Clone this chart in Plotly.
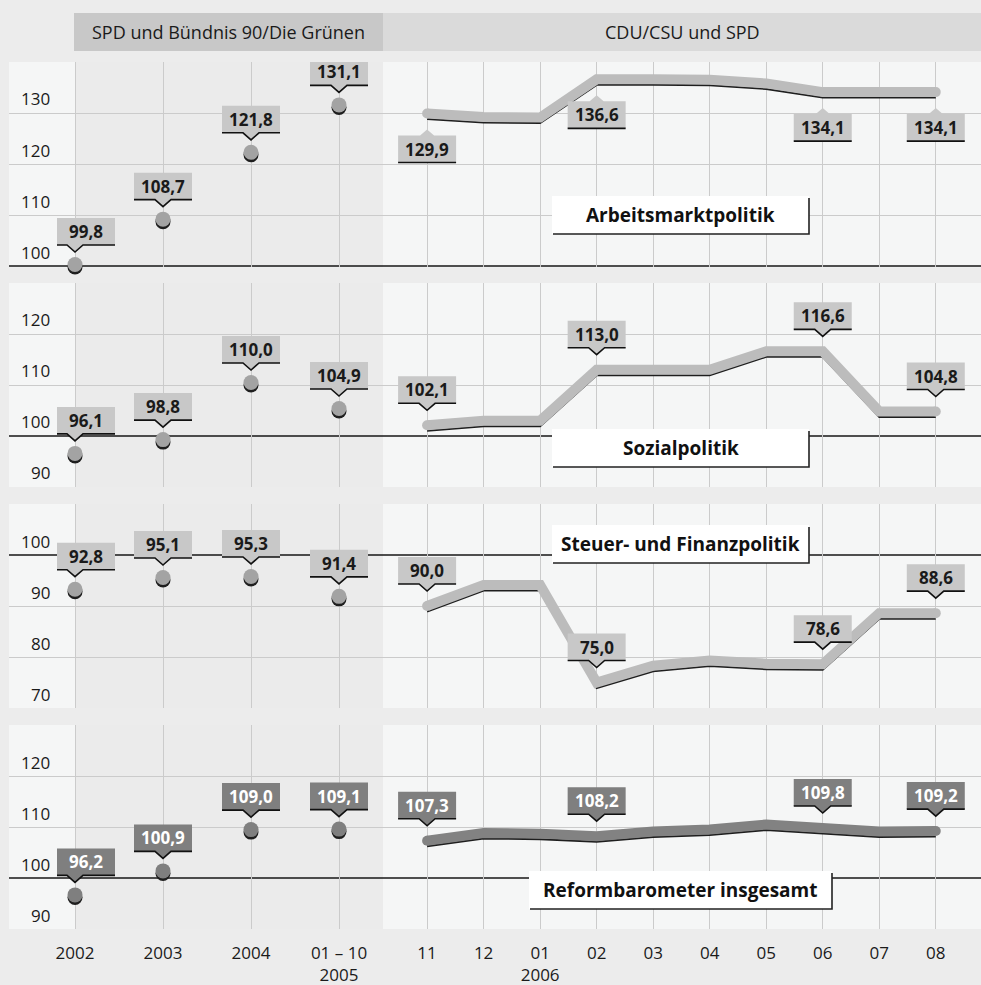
import plotly.graph_objects as go

# ---------------- data ----------------
left_cats = ["2002", "2003", "2004", "01 – 10<br>2005"]
right_cats = ["11", "12", "01<br>2006", "02", "03", "04", "05", "06", "07", "08"]

header_left = "SPD und Bündnis 90/Die Grünen"
header_right = "CDU/CSU und SPD"

panel_titles = ["Arbeitsmarktpolitik", "Sozialpolitik",
                "Steuer- und Finanzpolitik", "Reformbarometer insgesamt"]

arbeit_left = [99.8, 108.7, 121.8, 131.1]
arbeit_right = [129.9, 129.2, 129.1, 136.6, 136.6, 136.5, 135.8, 134.1, 134.1, 134.1]
sozial_left = [96.1, 98.8, 110.0, 104.9]
sozial_right = [102.1, 103.0, 103.0, 113.0, 113.0, 113.0, 116.6, 116.6, 104.8, 104.8]
steuer_left = [92.8, 95.1, 95.3, 91.4]
steuer_right = [90.0, 94.1, 94.1, 75.0, 78.3, 79.3, 78.7, 78.6, 88.6, 88.6]
gesamt_left = [96.2, 100.9, 109.0, 109.1]
gesamt_right = [107.3, 108.8, 108.7, 108.2, 109.1, 109.5, 110.5, 109.8, 109.1, 109.2]

left_values = [arbeit_left, sozial_left, steuer_left, gesamt_left]
right_values = [arbeit_right, sozial_right, steuer_right, gesamt_right]

y_ranges = [(100, 140), (90, 130), (70, 110), (90, 130)]
y_tick_labels = [[100, 110, 120, 130], [90, 100, 110, 120],
                 [70, 80, 90, 100], [90, 100, 110, 120]]
right_labelled = [0, 3, 7, 9]
labels_below = [True, False, False, False]

# ---------------- geometry / style ----------------
W, H = 981, 985
PLOT_L, SPLIT = 9, 383
PANEL_TOP = [62, 283, 504, 725]
PANEL_H = 204
LEFT_RANGE = [-0.75, 3.5]
RIGHT_RANGE = [-0.78, 9.8]
TITLE_BOXES = [(552, 809, 196, 234), (552, 809, 429, 467),
               (552, 809, 525, 563), (529, 832, 871, 909)]

FONT = "Open Sans"
BG = "#ececec"
PANEL_BG = "#f5f6f6"
SHADE = "#ebebeb"
GRID = "#cbcbcb"
HEAD_L = "#c8c8c8"
HEAD_R = "#dadada"
SHADOW = "#1e1e1e"
TXT = "#1a1a1a"
LIGHT_LINE, LIGHT_MARK, LIGHT_LAB = "#bcbcbc", "#a3a3a3", "#c8c8c8"
DARK_LINE, DARK_MARK, DARK_LAB = "#828282", "#7f7f7f", "#7f7f7f"


def px(x):
    return x / W


def py(y):
    return 1 - y / H


def fmt(v):
    return f"{v:.1f}".replace(".", ",")


fig = go.Figure()
layout = {}
shapes = []
annotations = []

for r in range(4):
    lo, hi = y_ranges[r]
    top = PANEL_TOP[r]
    ppu = PANEL_H / (hi - lo)
    # a point just below the panel floor must stay inside the axis range
    vmin = min(left_values[r] + right_values[r])
    pad = max(0.0, lo - vmin + 0.05)
    lo_r = lo - pad
    bot = top + PANEL_H + pad * ppu
    dark = (r == 3)
    line_col = DARK_LINE if dark else LIGHT_LINE
    mark_col = DARK_MARK if dark else LIGHT_MARK
    lab_col = DARK_LAB if dark else LIGHT_LAB
    lab_txt = "white" if dark else TXT

    for c in range(2):
        k = r * 2 + c + 1
        xname = "x" if k == 1 else f"x{k}"
        xkey = "xaxis" if k == 1 else f"xaxis{k}"
        ybn, yon = 2 * k - 1, 2 * k
        yb = "y" if ybn == 1 else f"y{ybn}"          # base axis (drawn first)
        ybkey = "yaxis" if ybn == 1 else f"yaxis{ybn}"
        yo = f"y{yon}"                               # overlay axis (drawn on top)
        yokey = f"yaxis{yon}"
        cats = left_cats if c == 0 else right_cats
        vals = left_values[r] if c == 0 else right_values[r]

        true_range = [lo_r, hi]
        grid_vals = [t for t in range(lo, hi + 1, 10) if t != 100]
        if c == 0:
            # base = true scale (dark marker shadow), overlay lifted 2.5 px (grey marker)
            d = 2.5 / ppu
            base_range = true_range
            over_range = [lo_r - d, hi - d]
            ytrue = yb
        else:
            # base = lowered 5.5 px (dark line shadow), overlay = true scale (grey line)
            d = 5.5 / ppu
            base_range = [lo_r + d, hi + d]
            over_range = true_range
            ytrue = yo

        layout[xkey] = dict(
            domain=[px(PLOT_L), px(SPLIT)] if c == 0 else [px(SPLIT), 1],
            anchor=yb, type="category", categoryorder="array", categoryarray=cats,
            range=LEFT_RANGE if c == 0 else RIGHT_RANGE,
            showgrid=True, gridcolor=GRID, gridwidth=1,
            showticklabels=(r == 3), ticks="", showline=False, zeroline=False,
            ticklabelstandoff=12,
            tickfont=dict(family=FONT, size=17, color=TXT), fixedrange=True)
        layout[ybkey] = dict(
            domain=[py(bot), py(top)], anchor=xname, range=base_range,
            tickmode="array", tickvals=grid_vals, showgrid=(c == 0),
            gridcolor=GRID, gridwidth=1,
            showticklabels=False, zeroline=False, showline=False,
            ticks="", fixedrange=True)
        layout[yokey] = dict(
            overlaying=yb, anchor=xname, range=over_range,
            tickmode="array", tickvals=grid_vals, showgrid=(c == 1),
            gridcolor=GRID, gridwidth=1,
            showticklabels=False, zeroline=False, showline=False, ticks="",
            fixedrange=True)

        # shading of the red-green period
        if c == 0:
            shapes.append(dict(type="rect", xref=xname, yref=f"{yb} domain",
                               x0=0, x1=3.5, y0=0, y1=1, fillcolor=SHADE,
                               line=dict(width=0), layer="below"))
        # 100 reference line (position on the true scale, as a domain fraction)
        f100 = (100 - true_range[0]) / (true_range[1] - true_range[0])
        shapes.append(dict(type="line", xref=f"{xname} domain", yref=f"{yb} domain",
                           x0=0, x1=1, y0=f100, y1=f100,
                           line=dict(color="#161616", width=1.5), layer="below"))

        if c == 0:
            fig.add_trace(go.Scatter(x=cats, y=vals, xaxis=xname, yaxis=yb,
                                     mode="markers", cliponaxis=False,
                                     marker=dict(size=15, color=SHADOW,
                                                 line=dict(width=0)),
                                     hoverinfo="skip", showlegend=False))
            fig.add_trace(go.Scatter(x=cats, y=vals, xaxis=xname, yaxis=yo,
                                     mode="markers", cliponaxis=False,
                                     marker=dict(size=15, color=mark_col,
                                                 line=dict(width=0)),
                                     hoverinfo="skip", showlegend=False))
            lab_idx = list(range(len(cats)))
            below = False
        else:
            n = len(vals)
            fig.add_trace(go.Scatter(x=cats, y=vals, xaxis=xname, yaxis=yb,
                                     mode="lines",
                                     line=dict(width=2, color=SHADOW),
                                     hoverinfo="skip", showlegend=False))
            fig.add_trace(go.Scatter(x=cats, y=vals, xaxis=xname, yaxis=yo,
                                     mode="lines+markers",
                                     line=dict(width=10, color=line_col),
                                     marker=dict(size=[10 if i in (0, n - 1) else 0
                                                       for i in range(n)],
                                                 color=line_col, opacity=1,
                                                 line=dict(width=0)),
                                     hoverinfo="skip", showlegend=False))
            lab_idx = right_labelled
            below = labels_below[r]

        # callout labels
        for i in lab_idx:
            v = vals[i]
            dx = 11 if (c == 0 and i == 0) else 0
            a, b = dx - 29, dx + 29
            if below:
                box = (f"M {a},-22 L -7,-22 L 0,-16 L 7,-22 L {b},-22 "
                       f"L {b},-49 L {a},-49 Z")
                ul = f"M {a},-49 L {b},-49"
                ty = -35.5
            else:
                box = (f"M {a},22 L -8,22 L 0,15 L 8,22 L {b},22 "
                       f"L {b},49 L {a},49 Z")
                ul = f"M {a},22 L -8,22 L 0,15 L 8,22 L {b},22"
                ty = 35.5
            common = dict(type="path", xref=xname, yref=ytrue,
                          xsizemode="pixel", ysizemode="pixel",
                          xanchor=i, yanchor=v, layer="above")
            shapes.append(dict(common, path=box, fillcolor=lab_col,
                               line=dict(width=0)))
            shapes.append(dict(common, path=ul, fillcolor="rgba(0,0,0,0)",
                               line=dict(color="#111111", width=1.6)))
            annotations.append(dict(x=i, y=v, xref=xname, yref=ytrue,
                                    text=f"<b>{fmt(v)}</b>", showarrow=False,
                                    xshift=dx, yshift=ty,
                                    font=dict(family=FONT, size=17, color=lab_txt)))

    # y tick labels (drawn inside, above the gridline)
    yt_left = "y" if r == 0 else f"y{2 * (r * 2 + 1) - 1}"
    for t in y_tick_labels[r]:
        annotations.append(dict(x=px(52), y=t, xref="paper", yref=yt_left,
                                xanchor="right", yanchor="middle", yshift=14,
                                text=str(t), showarrow=False,
                                font=dict(family=FONT, size=17, color=TXT)))

    # panel title box
    x0, x1, y0, y1 = TITLE_BOXES[r]
    shapes.append(dict(type="rect", xref="paper", yref="paper",
                       x0=px(x0), x1=px(x1), y0=py(y1), y1=py(y0),
                       fillcolor="white", line=dict(width=0), layer="above"))
    shapes.append(dict(type="path", xref="paper", yref="paper",
                       path=f"M {px(x1)},{py(y0 + 2)} L {px(x1)},{py(y1)} L {px(x0 + 1)},{py(y1)}",
                       fillcolor="rgba(0,0,0,0)",
                       line=dict(color="#222222", width=1.6), layer="above"))
    annotations.append(dict(x=px((x0 + x1) / 2), y=py((y0 + y1) / 2),
                            xref="paper", yref="paper", text=f"<b>{panel_titles[r]}</b>",
                            showarrow=False, xanchor="center", yanchor="middle",
                            font=dict(family=FONT, size=19, color="#111111")))

# headers
shapes.append(dict(type="rect", xref="paper", yref="paper",
                   x0=px(74), x1=px(SPLIT), y0=py(51), y1=py(13),
                   fillcolor=HEAD_L, line=dict(width=0), layer="below"))
shapes.append(dict(type="rect", xref="paper", yref="paper",
                   x0=px(SPLIT), x1=1, y0=py(51), y1=py(13),
                   fillcolor=HEAD_R, line=dict(width=0), layer="below"))
annotations.append(dict(x=px((74 + SPLIT) / 2), y=py(32), xref="paper", yref="paper",
                        text=header_left, showarrow=False,
                        xanchor="center", yanchor="middle",
                        font=dict(family=FONT, size=18, color=TXT)))
annotations.append(dict(x=px((SPLIT + W) / 2), y=py(32), xref="paper", yref="paper",
                        text=header_right, showarrow=False,
                        xanchor="center", yanchor="middle",
                        font=dict(family=FONT, size=18, color=TXT)))

fig.update_layout(
    width=W, height=H,
    margin=dict(l=0, r=0, t=0, b=0),
    paper_bgcolor=BG, plot_bgcolor=PANEL_BG,
    showlegend=False,
    shapes=shapes, annotations=annotations,
    font=dict(family=FONT, size=17, color=TXT),
    **layout)

fig.write_html("out.html", config={"displayModeBar": False},
               post_script="document.body.style.margin='0';"
                           "document.body.style.overflow='hidden';")
